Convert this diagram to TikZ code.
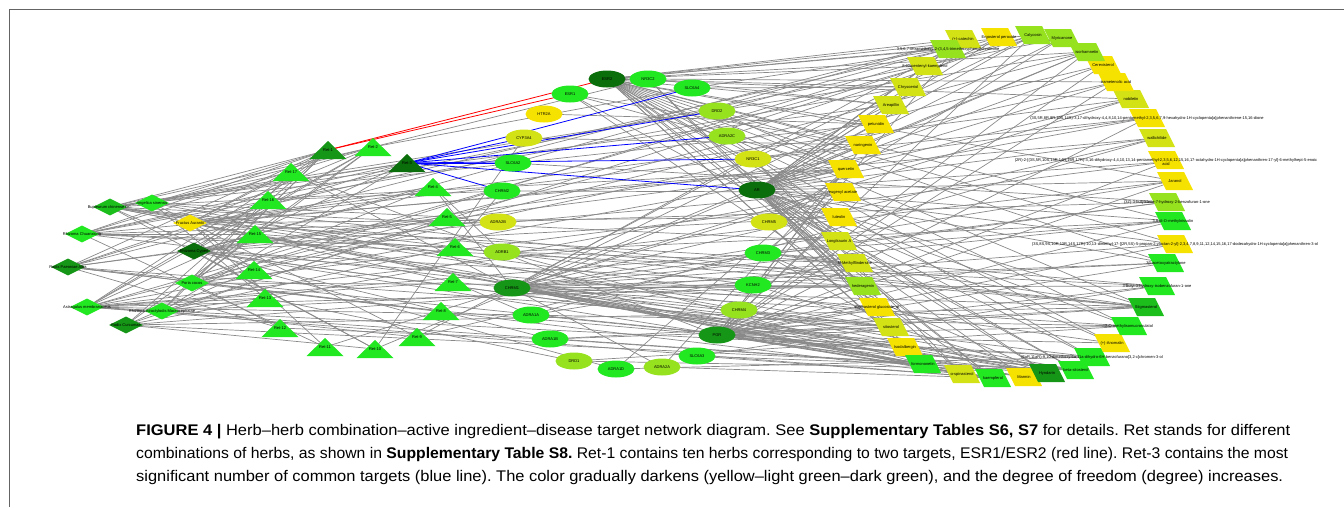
\documentclass[tikz,border=0pt]{standalone}
\usepackage{fontspec}
\setmainfont{Liberation Sans}
\usetikzlibrary{calc,shapes.geometric,backgrounds}
\frenchspacing

\definecolor{yel}{RGB}{246,226,0}
\definecolor{ygr}{RGB}{210,226,20}
\definecolor{lgr}{RGB}{150,226,30}
\definecolor{bgr}{RGB}{34,232,34}
\definecolor{mgr}{RGB}{28,190,28}
\definecolor{dgr}{RGB}{22,150,22}
\definecolor{vdg}{RGB}{10,110,10}
\definecolor{edgegray}{RGB}{137,137,137}
\definecolor{framegray}{RGB}{100,100,100}

\def\retshape(#1,#2)[#3]{\fill[#3] (#1,#2-9) -- (#1+18.5,#2+9) -- (#1-18.5,#2+9) -- cycle;}
\def\ingshape(#1,#2)[#3]{\fill[#3] (#1-18,#2-9) -- (#1+9,#2-9) -- (#1+18,#2+9) -- (#1-9,#2+9) -- cycle;}

\tikzset{
	lbl/.style={font=\fontsize{4}{4.6}\selectfont, inner sep=0pt, text=black},
	target/.style={ellipse, minimum width=37pt, minimum height=17pt, inner sep=0pt, lbl},
	herb/.style={diamond, minimum width=34pt, minimum height=17pt, inner sep=0pt, lbl},
	link/.style={edgegray, line width=0.7pt},
	redlink/.style={red, line width=0.8pt},
	bluelink/.style={blue, line width=0.8pt},
	captext/.style={anchor=base west, inner sep=0pt, font=\fontsize{15.4}{18}\selectfont},
}

\begin{document}
\begin{tikzpicture}[x=1pt,y=-1pt]
	%%%%% START %%%%%
	\useasboundingbox (0,0) rectangle (1344,507);
	\draw[framegray, line width=1pt] (9,507) -- (9,9) -- (1344,9);
	
	% herbs
	\node[herb, fill=mgr] (bupl) at (110,207) {\makebox[0pt]{Bupleurum chinense DC.}};
	\node[herb, fill=bgr] (ange) at (152,203) {\makebox[0pt]{Angelica sinensis}};
	\node[herb, fill=yel] (faur) at (190,223) {\makebox[0pt]{Fructus Aurantii}};
	\node[herb, fill=bgr] (chua) at (82,234) {\makebox[0pt]{Rhizoma Chuanxiong}};
	\node[herb, fill=vdg] (cype) at (194,251) {\makebox[0pt]{Rhizoma Cyperi}};
	\node[herb, fill=dgr] (paeo) at (68,267) {\makebox[0pt]{Radix Paeoniae Alba}};
	\node[herb, fill=bgr] (pori) at (192,283) {\makebox[0pt]{Poria cocos}};
	\node[herb, fill=bgr] (astr) at (87,307) {\makebox[0pt]{Astragalus membranaceus}};
	\node[herb, fill=bgr] (atra) at (162,311) {\makebox[0pt]{Rhizoma Atractylodis Macrocephalae}};
	\node[herb, fill=dgr] (curc) at (126,325) {\makebox[0pt]{Radix Curcumae}};
	
	% herb combinations
	\retshape(328,150)[dgr] \node[lbl] (r1) at (328,150) {Ret-1};
	\retshape(373,147)[bgr] \node[lbl] (r2) at (373,147) {Ret-2};
	\retshape(407,163)[vdg] \node[lbl] (r3) at (407,163) {Ret-3};
	\retshape(433,187)[bgr] \node[lbl] (r4) at (433,187) {Ret-4};
	\retshape(447,217)[bgr] \node[lbl] (r5) at (447,217) {Ret-5};
	\retshape(455,247)[bgr] \node[lbl] (r6) at (455,247) {Ret-6};
	\retshape(453,282)[bgr] \node[lbl] (r7) at (453,282) {Ret-7};
	\retshape(441,311)[bgr] \node[lbl] (r8) at (441,311) {Ret-8};
	\retshape(417,337)[bgr] \node[lbl] (r9) at (417,337) {Ret-9};
	\retshape(375,349)[bgr] \node[lbl] (r10) at (375,349) {Ret-10};
	\retshape(325,347)[bgr] \node[lbl] (r11) at (325,347) {Ret-11};
	\retshape(280,328)[bgr] \node[lbl] (r12) at (280,328) {Ret-12};
	\retshape(265,298)[bgr] \node[lbl] (r13) at (265,298) {Ret-13};
	\retshape(254,270)[bgr] \node[lbl] (r14) at (254,270) {Ret-14};
	\retshape(255,234)[bgr] \node[lbl] (r15) at (255,234) {Ret-15};
	\retshape(268,200)[bgr] \node[lbl] (r16) at (268,200) {Ret-16};
	\retshape(291,172)[bgr] \node[lbl] (r17) at (291,172) {Ret-17};
	
	% targets
	\node[target, fill=vdg] (esr2) at (607,79) {ESR2};
	\node[target, fill=bgr] (nr3c2) at (648,79) {NR3C2};
	\node[target, fill=bgr] (esr1) at (570,94) {ESR1};
	\node[target, fill=bgr] (slc6a4) at (692,88) {SLC6A4};
	\node[target, fill=yel] (htr2a) at (544,114) {HTR2A};
	\node[target, fill=lgr] (drd2) at (717,111) {DRD2};
	\node[target, fill=ygr] (cyp3a4) at (524,138) {CYP3A4};
	\node[target, fill=lgr] (adra2c) at (727,136) {ADRA2C};
	\node[target, fill=ygr] (nr3c1) at (753,159) {NR3C1};
	\node[target, fill=bgr] (slc6a2) at (513,163) {SLC6A2};
	\node[target, fill=vdg] (ar) at (757,190) {AR};
	\node[target, fill=bgr] (chrm2) at (502,191) {CHRM2};
	\node[target, fill=ygr] (adra2b) at (498,222) {ADRA2B};
	\node[target, fill=ygr] (chrm5) at (769,222) {CHRM5};
	\node[target, fill=lgr] (adrb1) at (502,252) {ADRB1};
	\node[target, fill=bgr] (chrm3) at (763,253) {CHRM3};
	\node[target, fill=dgr] (chrm1) at (512,288) {CHRM1};
	\node[target, fill=bgr] (kcnh2) at (753,285) {KCNH2};
	\node[target, fill=bgr] (adra1a) at (531,315) {ADRA1A};
	\node[target, fill=lgr] (chrm4) at (739,310) {CHRM4};
	\node[target, fill=bgr] (adra1b) at (550,339) {ADRA1B};
	\node[target, fill=dgr] (pgr) at (717,335) {PGR};
	\node[target, fill=lgr] (drd1) at (574,361) {DRD1};
	\node[target, fill=bgr] (slc6a3) at (697,356) {SLC6A3};
	\node[target, fill=bgr] (adra1d) at (616,369) {ADRA1D};
	\node[target, fill=lgr] (adra2a) at (662,367) {ADRA2A};
	
	% active ingredients
	\ingshape(846,169)[yel] \node[lbl] (quer) at (846,169) {quercetin};
	\ingshape(843,192)[yel] \node[lbl] (euge) at (843,192) {eugenyl acetate};
	\ingshape(839,217)[yel] \node[lbl] (lute) at (839,217) {luteolin};
	\ingshape(839,241)[ygr] \node[lbl] (long) at (839,241) {Longikaurin A};
	\ingshape(855,263)[ygr] \node[lbl] (nmfl) at (855,263) {N-Methylflindersine};
	\ingshape(863,286)[lgr] \node[lbl] (hede) at (863,286) {hederagenin};
	\ingshape(877,307)[yel] \node[lbl] (sglu) at (877,307) {stigmasterol glucoside\_qt};
	\ingshape(891,327)[ygr] \node[lbl] (sito) at (891,327) {sitosterol};
	\ingshape(905,347)[yel] \node[lbl] (isod) at (905,347) {Isodalbergin};
	\ingshape(923,364)[bgr] \node[lbl] (form) at (923,364) {formononetin};
	\ingshape(962,374)[ygr] \node[lbl] (spin) at (962,374) {α-spinasterol};
	\ingshape(993,378)[bgr] \node[lbl] (kaem) at (993,378) {kaempferol};
	\ingshape(1024,377)[yel] \node[lbl] (marm) at (1024,377) {Marmin};
	\ingshape(1047,373)[dgr] \node[lbl] (hynd) at (1047,373) {Hyndarin};
	\ingshape(1076,370)[bgr] \node[lbl] (bsit) at (1076,370) {beta-sitosterol};
	\ingshape(1092,357)[bgr] \node[lbl] (pter) at (1092,357) {(6aR,11aR)-9,10-dimethoxy-6a,11a-dihydro-6H-benzofurano[3,2-c]chromen-3-ol};
	\ingshape(1112,343)[yel] \node[lbl] (anom) at (1112,343) {(+)-Anomalin};
	\ingshape(1129,326)[bgr] \node[lbl] (omet) at (1129,326) {7-O-methylisomucronulatol};
	\ingshape(1146,307)[mgr] \node[lbl] (stig) at (1146,307) {Stigmasterol};
	\ingshape(1157,286)[bgr] \node[lbl] (isob) at (1157,286) {3-butyl-3-hydroxy-isobenzofuran-1-one};
	\ingshape(1166,263)[bgr] \node[lbl] (acet) at (1166,263) {3β-acetoxyatractylone};
	\ingshape(1175,244)[yel] \node[lbl] (dode) at (1175,244) {(3S,8S,9S,10R,13R,14S,17R)-10,13-dimethyl-17-[(2R,5S)-5-propan-2-yloctan-2-yl]-2,3,4,7,8,9,11,12,14,15,16,17-dodecahydro-1H-cyclopenta[a]phenanthren-3-ol};
	\ingshape(1173,221)[bgr] \node[lbl] (niss) at (1173,221) {3,9-di-O-methylnissolin};
	\ingshape(1167,202)[lgr] \node[lbl] (buty) at (1167,202) {(3Z)-3-butylidene-7-hydroxy-2-benzofuran-1-one};
	\ingshape(1175,181)[yel] \node[lbl] (jara) at (1175,181) {Jaranol};
	\ingshape(1166,160)[yel] \node[lbl, align=center] (oica) at (1166,162) {(2R)-2-[(3S,5R,10S,13R,14R,16R,17R)-3,16-dihydroxy-4,4,10,13,14-pentamethyl-2,3,5,6,12,15,16,17-octahydro-1H-cyclopenta[a]phenanthren-17-yl]-6-methylhept-5-enoic\\acid};
	\ingshape(1157,138)[ygr] \node[lbl] (wall) at (1157,138) {wallichilide};
	\ingshape(1147,118)[yel] \node[lbl] (dion) at (1147,118) {(3S,5R,8R,9R,10S,14S)-3,17-dihydroxy-4,4,8,10,14-pentamethyl-2,3,5,6,7,9-hexahydro-1H-cyclopenta[a]phenanthrene-15,16-dione};
	\ingshape(1131,99)[ygr] \node[lbl] (nobi) at (1131,99) {nobiletin};
	\ingshape(1116,82)[yel] \node[lbl] (tram) at (1116,82) {trametenolic acid};
	\ingshape(1103,65)[yel] \node[lbl] (cere) at (1103,65) {Cerevisterol};
	\ingshape(1087,52)[lgr] \node[lbl] (isor) at (1087,52) {isorhamnetin};
	\ingshape(1062,38)[lgr] \node[lbl] (myri) at (1062,38) {Myricanone};
	\ingshape(1033,35)[lgr] \node[lbl] (caly) at (1033,35) {Calycosin};
	\ingshape(999,37)[yel] \node[lbl] (ergo) at (999,37) {Ergosterol peroxide};
	\ingshape(963,39)[ygr] \node[lbl] (cate) at (963,39) {(+)-catechin};
	\ingshape(948,49)[lgr] \node[lbl] (tetr) at (948,49) {3,5,6,7-tetramethoxy-2-(3,4,5-trimethoxyphenyl)chromone};
	\ingshape(925,66)[ygr] \node[lbl] (ipen) at (925,66) {8-Isopentenyl-kaempferol};
	\ingshape(908,87)[ygr] \node[lbl] (chry) at (908,87) {Chrysoeriol};
	\ingshape(891,105)[ygr] \node[lbl] (area) at (891,105) {Areapillin};
	\ingshape(876,124)[yel] \node[lbl] (petu) at (876,124) {petunidin};
	\ingshape(863,145)[yel] \node[lbl] (nari) at (863,145) {naringenin};
	
	% connections
	\begin{scope}[on background layer]
		\foreach \r/\hs in {r1/{bupl,ange,faur,chua,cype,paeo,pori,astr,atra,curc}, r2/{bupl,ange,faur,chua,cype,pori,astr,curc},
			r3/{bupl,ange,chua,paeo,astr,atra}, r4/{faur,cype,pori}, r5/{ange,paeo,curc}, r6/{bupl,chua,atra},
			r7/{faur,astr}, r8/{cype,paeo,pori}, r9/{ange,atra}, r10/{bupl,cype,curc}, r11/{faur,chua},
			r12/{paeo,pori}, r13/{ange,astr,atra}, r14/{bupl,faur,curc}, r15/{chua,cype,pori},
			r16/{paeo,astr}, r17/{ange,faur,atra}}
			{\foreach \h in \hs {\draw[link] (\h.center) -- (\r.center);}}
		
		\foreach \a/\b in {r2/nr3c2, r2/slc6a4, r4/adrb1, r4/chrm1, r5/adra2b, r6/chrm2, r6/kcnh2, r7/chrm1,
			r7/adra1a, r8/adra1b, r8/pgr, r9/chrm3, r9/nr3c1, r10/cyp3a4, r10/ar, r11/chrm1, r12/adra1b,
			r13/drd1, r14/adra1d, r15/adrb1, r16/chrm2, r17/adra2a, r17/pgr}
			\draw[link] (\a.center) -- (\b.center);
		
		\foreach \h/\is in {bupl/{quer,kaem,isor,petu,area,long,anom,spin,stig,sito}, ange/{bsit,stig},
			faur/{nari,nobi,marm,hynd,nmfl,tetr,lute,quer}, chua/{myri,wall,buty,isob,sito,chry},
			cype/{quer,lute,euge,hede,sglu,cate,bsit,kaem,isod}, paeo/{dion,kaem,cate,sito,bsit},
			pori/{ergo,cere,tram,oica,hede}, astr/{caly,form,kaem,quer,isor,jara,niss,omet,pter,hede},
			atra/{acet,ipen}, curc/{dode,bsit,stig,euge}}
			{\foreach \i in \is {\draw[link] (\h.center) -- (\i.center);}}
		
		\foreach \i/\ts in {bsit/{pgr,ar,chrm1,adra1a,drd1,esr1,slc6a3}, hynd/{pgr,ar,chrm1,chrm3,adra1b,esr2,chrm4,kcnh2},
			marm/{pgr,ar,chrm1}, kaem/{pgr,ar,esr2,esr1,adra2a,slc6a3,chrm1}, spin/{pgr,ar,chrm1,nr3c1},
			form/{pgr,ar,esr2,chrm1,adrb1}, isod/{pgr,esr2,chrm1}, sito/{pgr,ar,chrm1,adra1b,chrm3},
			sglu/{pgr,ar,nr3c2}, hede/{pgr,ar,esr2,nr3c2,chrm1}, nmfl/{chrm1,chrm3,adra1a,adrb1},
			long/{esr2,ar,nr3c1}, lute/{esr2,ar,pgr,adra2c}, euge/{chrm1,chrm2,chrm3},
			quer/{esr2,esr1,ar,pgr,drd2,adra1d,adra2a}, nari/{esr2,esr1,ar,cyp3a4}, petu/{esr2,ar,htr2a},
			area/{esr2,ar,nr3c2}, chry/{esr2,ar,slc6a4}, ipen/{esr2,ar,pgr}, tetr/{esr2,ar,chrm1,slc6a4,drd2},
			cate/{esr2,ar,pgr}, ergo/{ar,nr3c1}, caly/{esr2,ar,pgr,chrm1,adra2c}, myri/{esr2,ar,chrm5},
			isor/{esr2,ar,pgr,chrm1}, cere/{ar,pgr}, tram/{ar,pgr,nr3c2}, nobi/{esr2,ar,chrm1},
			dion/{ar,pgr,nr3c1}, wall/{ar,chrm1,adra1a}, oica/{ar,pgr}, jara/{esr2,ar,pgr,chrm1},
			buty/{chrm1,chrm3,slc6a2}, niss/{esr2,ar,pgr,chrm1,adrb1}, dode/{ar,pgr,esr2},
			acet/{esr2,ar,pgr,chrm1}, isob/{chrm1,chrm3,slc6a3,pgr}, stig/{pgr,ar,esr2,chrm1,adra1b,chrm3,adrb1},
			omet/{esr2,pgr,chrm1,ar,drd1}, anom/{esr2,ar,pgr}, pter/{esr2,pgr,chrm1,ar,adra1d}}
			{\foreach \t in \ts {\draw[link] (\i.center) -- (\t.center);}}
		
		\draw[redlink] (r1.center) -- (esr2.center);
		\draw[redlink] (r1.center) -- (esr1.center);
		\foreach \t in {slc6a4,drd2,adra2c,nr3c1,ar,cyp3a4,slc6a2,chrm2}
			\draw[bluelink] (r3.center) -- (\t.center);
	\end{scope}
	
	% caption
	\node[captext] (cap1) at (136,435) {\resizebox{1154pt}{\height}{\textbf{FIGURE 4 |} Herb–herb combination–active ingredient–disease target network diagram. See \textbf{Supplementary Tables S6, S7} for details. Ret stands for different}};
	\node[captext] (cap2) at (136,458) {\resizebox{1152pt}{\height}{combinations of herbs, as shown in \textbf{Supplementary Table S8.} Ret-1 contains ten herbs corresponding to two targets, ESR1/ESR2 (red line). Ret-3 contains the most}};
	\node[captext] (cap3) at (136,481) {\resizebox{1147pt}{\height}{significant number of common targets (blue line). The color gradually darkens (yellow–light green–dark green), and the degree of freedom (degree) increases.}};
	
	%%%%% END %%%%%
\end{tikzpicture}
\end{document}
